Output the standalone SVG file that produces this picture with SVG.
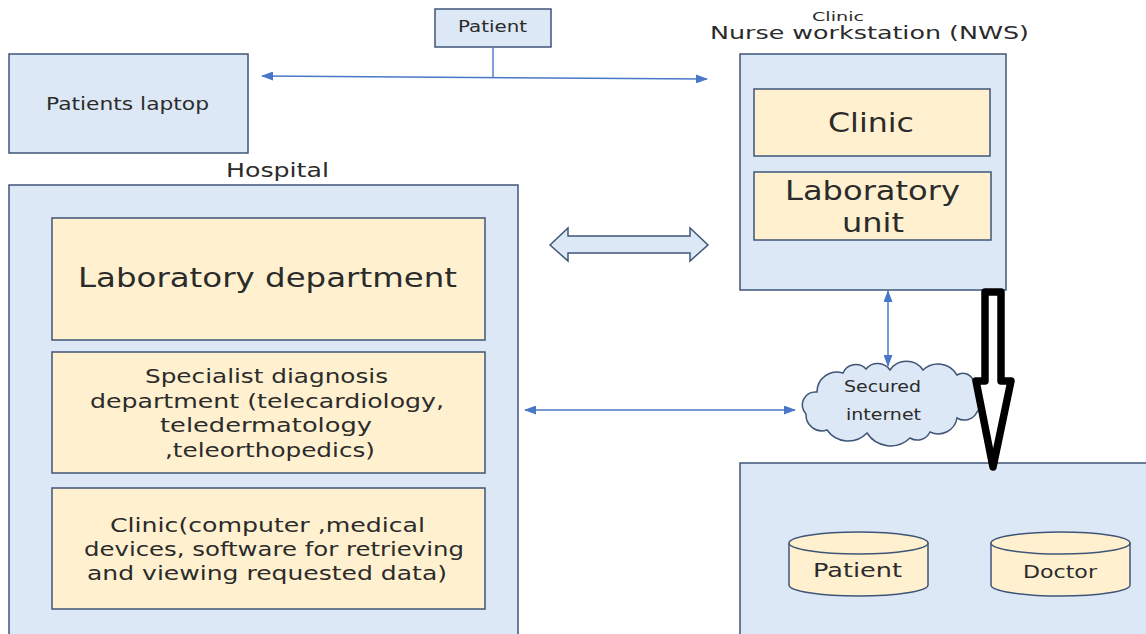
<svg xmlns="http://www.w3.org/2000/svg" width="1146" height="634" viewBox="0 0 1146 634">
<style>
.b{fill:#dce8f5;stroke:#3f5578;stroke-width:1.5}
.y{fill:#fff1cf;stroke:#3f5578;stroke-width:1.5}
text{font-family:"DejaVu Sans",sans-serif;fill:#2b2b2b;text-anchor:middle}
.c{stroke:#4a78c8;stroke-width:1.5;fill:none;marker-start:url(#a);marker-end:url(#a)}
</style>
<defs><marker id="a" viewBox="0 0 12 9" refX="11" refY="4.500" markerWidth="12" markerHeight="9" orient="auto-start-reverse" markerUnits="userSpaceOnUse"><path d="M0 0L12 4.500L0 9Z" fill="#4a78c8"/></marker></defs>
<rect width="1146" height="634" fill="#fff"/>
<g id="connectors">
<path d="M493 48V77" stroke="#7fa0dc" stroke-width="2" fill="none"/>
<path class="c" d="M262 76L707 79"/>
<path class="c" d="M888 291V366"/>
<path class="c" d="M525 410H795"/>
<path d="M550 245L568 228V236H690V228L708 245L690 261V253H568V261Z" class="b"/>
</g>
<g id="patient-top"><rect class="b" x="435" y="9" width="116" height="38"/><text x="492.500" y="32" font-size="16" textLength="69" lengthAdjust="spacingAndGlyphs">Patient</text></g>
<g id="laptop"><rect class="b" x="9" y="54" width="239" height="99"/><text x="127.500" y="110" font-size="18" textLength="163" lengthAdjust="spacingAndGlyphs">Patients laptop</text></g>
<g id="nws">
<text x="838" y="21" font-size="13" textLength="52" lengthAdjust="spacingAndGlyphs">Clinic</text>
<text x="869.500" y="39" font-size="18" textLength="319" lengthAdjust="spacingAndGlyphs">Nurse workstation (NWS)</text>
<rect class="b" x="740" y="54" width="266" height="236"/>
<rect class="y" x="754" y="89" width="236" height="67"/><text x="871" y="132" font-size="27" textLength="86" lengthAdjust="spacingAndGlyphs">Clinic</text>
<rect class="y" x="754" y="172" width="237" height="68"/><text x="872.500" y="200" font-size="27" textLength="175" lengthAdjust="spacingAndGlyphs">Laboratory</text><text x="873" y="232" font-size="27" textLength="62" lengthAdjust="spacingAndGlyphs">unit</text>
</g>
<g id="hospital">
<text x="277.500" y="177" font-size="19" textLength="103" lengthAdjust="spacingAndGlyphs">Hospital</text>
<rect class="b" x="9" y="185" width="509" height="470"/>
<rect class="y" x="52" y="218" width="433" height="122"/><text x="267.500" y="287" font-size="27" textLength="379" lengthAdjust="spacingAndGlyphs">Laboratory department</text>
<rect class="y" x="52" y="352" width="433" height="121"/>
<g font-size="20"><text x="266.500" y="383" textLength="243" lengthAdjust="spacingAndGlyphs">Specialist diagnosis</text><text x="267" y="408" textLength="354" lengthAdjust="spacingAndGlyphs">department (telecardiology,</text><text x="266" y="432" textLength="212" lengthAdjust="spacingAndGlyphs">teledermatology</text><text x="270" y="457" textLength="210" lengthAdjust="spacingAndGlyphs">,teleorthopedics)</text></g>
<rect class="y" x="52" y="488" width="433" height="121"/>
<g font-size="20"><text x="267.500" y="532" textLength="315" lengthAdjust="spacingAndGlyphs">Clinic(computer ,medical</text><text x="274" y="556" textLength="380" lengthAdjust="spacingAndGlyphs">devices, software for retrieving</text><text x="267" y="580" textLength="360" lengthAdjust="spacingAndGlyphs">and viewing requested data)</text></g>
</g>
<g id="cloud">
<path class="b" d="M806 414A13 13 0 0 1 817 392A20 20 0 0 1 843 373A14 14 0 0 1 866 369A15 15 0 0 1 890 370A20 20 0 0 1 923 370A22 22 0 0 1 957 375A11 11 0 0 1 973 380A20 20 0 0 1 977 412A14 14 0 0 1 957 418A19 19 0 0 1 930 432A14 14 0 0 1 910 438A28 28 0 0 1 867 433A26 26 0 0 1 827 430A16 16 0 0 1 806 414Z"/>
<text x="882.500" y="392" font-size="15" textLength="77" lengthAdjust="spacingAndGlyphs">Secured</text><text x="883.500" y="420" font-size="15" textLength="75" lengthAdjust="spacingAndGlyphs">internet</text>
</g>
<g id="storage">
<rect class="b" x="740" y="463" width="420" height="190"/>
<g id="db-patient"><path class="y" d="M789 543V585A69 11 0 0 0 928 585V543"/><ellipse class="y" cx="858.500" cy="543" rx="69.500" ry="11"/><text x="857.500" y="577" font-size="19" textLength="89" lengthAdjust="spacingAndGlyphs">Patient</text></g>
<g id="db-doctor"><path class="y" d="M991 543V585A69 11 0 0 0 1130 585V543"/><ellipse class="y" cx="1060.500" cy="543" rx="69.500" ry="11"/><text x="1060" y="578" font-size="18" textLength="74" lengthAdjust="spacingAndGlyphs">Doctor</text></g>
</g>
<path id="big-arrow" d="M985 292H1001V381H1011L993 467L976 381H985Z" fill="#fff" stroke="#000" stroke-width="7.500" stroke-linejoin="round"/>
</svg>
